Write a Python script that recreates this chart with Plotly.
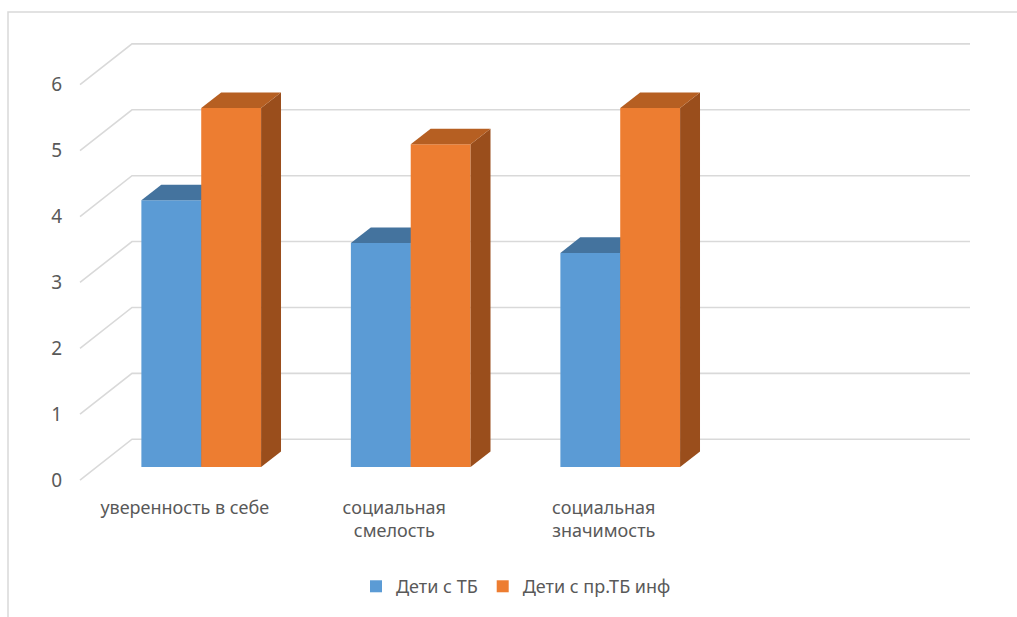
import plotly.graph_objects as go

# ---- data -------------------------------------------------------------
categories = ["уверенность в себе", "социальная<br>смелость", "социальная<br>значимость"]
series_names = ["Дети с ТБ", "Дети с пр.ТБ инф"]
values_tb = [4.05, 3.4, 3.25]
values_inf = [5.45, 4.9, 5.45]
y_ticks = [0, 1, 2, 3, 4, 5, 6]

# ---- styling ----------------------------------------------------------
FRONT = ["#5B9BD5", "#ED7D31"]
TOP = ["#44739E", "#B65F22"]
SIDE = ["#2F5B85", "#9A4E1C"]
GRID = "#D9D9D9"
TEXT = "#595959"
FONT = "Noto Sans"

W, H = 1017, 617
# plot area in pixels
PL, PR, PT, PB = 72, 978, 30, 492
# axis scales (pixels per unit) and origin of the front plane
X0_PX, X_UNIT = 80, 209.5     # px of x=-0.5, px per category
Y0_PX, Y_UNIT = 482, 66.17    # px of value 0 on the front plane, px per unit

x_range = [(PL - X0_PX) / X_UNIT - 0.5, (PR - X0_PX) / X_UNIT - 0.5]
y_range = [(Y0_PX - PB) / Y_UNIT, (Y0_PX - PT) / Y_UNIT]

# oblique depth of the floor / back wall (in axis units)
DX = 52 / X_UNIT
DY = 41 / Y_UNIT
N_SLOTS = 4                    # category slots along the floor
F0, F1 = 0.317, 0.70           # bar depth span as fraction of floor depth
BAR_W = 1 / 3.5                # gap width 150 %

fig = go.Figure()

# floor / wall gridlines on the base subplot
for v in y_ticks:
    fig.add_trace(go.Scatter(
        x=[-0.5, -0.5 + DX, N_SLOTS - 0.5 + DX],
        y=[v, v + DY, v + DY],
        mode="lines", line=dict(color=GRID, width=1.6),
        hoverinfo="skip", showlegend=False))

ox, oy = F0 * DX, F0 * DY                  # front face offset
ddx, ddy = (F1 - F0) * DX, (F1 - F0) * DY  # bar depth

# each series lives on its own overlaid subplot so later series paint on top
series = [values_tb, values_inf]
for si, vals in enumerate(series):
    xa, ya = f"x{si + 2}", f"y{si + 2}"
    for ci, v in enumerate(vals):
        xl = ci + ox + (si - 1) * BAR_W
        xr = xl + BAR_W
        b = oy
        t = oy + v
        # front face
        fig.add_trace(go.Bar(
            x=[ci + ox], y=[v], base=[b], width=[BAR_W],
            offset=[(si - 1) * BAR_W],
            marker=dict(color=FRONT[si], line=dict(width=0)),
            name=series_names[si], legendgroup=series_names[si],
            showlegend=(ci == 0), xaxis=xa, yaxis=ya))
        # side face
        fig.add_trace(go.Scatter(
            x=[xr, xr, xr + ddx, xr + ddx, xr],
            y=[b, t, t + ddy, b + ddy, b],
            fill="toself", fillcolor=SIDE[si], mode="lines",
            line=dict(width=0, color=SIDE[si]),
            hoverinfo="skip", showlegend=False, xaxis=xa, yaxis=ya))
        # top face
        fig.add_trace(go.Scatter(
            x=[xl, xr, xr + ddx, xl + ddx, xl],
            y=[t, t, t + ddy, t + ddy, t],
            fill="toself", fillcolor=TOP[si], mode="lines",
            line=dict(width=0, color=TOP[si]),
            hoverinfo="skip", showlegend=False, xaxis=xa, yaxis=ya))


def paper_x(px):
    return (px - PL) / (PR - PL)


def paper_y(py):
    return (PB - py) / (PB - PT)


hidden_x = dict(range=x_range, visible=False, overlaying="x", fixedrange=True)
hidden_y = dict(range=y_range, visible=False, overlaying="y", fixedrange=True)

fig.update_layout(
    width=W, height=H,
    margin=dict(l=PL, r=W - PR, t=PT, b=H - PB, pad=0),
    paper_bgcolor="white", plot_bgcolor="rgba(0,0,0,0)",
    barmode="overlay",
    font=dict(family=FONT, size=18, color=TEXT),
    xaxis=dict(range=x_range, tickvals=list(range(len(categories))),
               ticktext=categories, showgrid=False, zeroline=False,
               showline=False, ticks="outside", ticklen=1,
               tickcolor="rgba(0,0,0,0)", fixedrange=True,
               tickfont=dict(size=18, color=TEXT)),
    yaxis=dict(range=y_range, tickvals=y_ticks, showgrid=False,
               zeroline=False, showline=False, ticks="",
               ticklabelstandoff=9, fixedrange=True,
               tickfont=dict(size=19, color=TEXT)),
    xaxis2=hidden_x, yaxis2=hidden_y,
    xaxis3=hidden_x, yaxis3=hidden_y,
    legend=dict(orientation="h", x=paper_x(516), xanchor="center",
                y=paper_y(589), yanchor="middle",
                font=dict(size=18, color=TEXT), itemwidth=30,
                traceorder="normal"),
    shapes=[dict(type="rect", xref="paper", yref="paper",
                 x0=paper_x(8), x1=paper_x(1040),
                 y0=paper_y(640), y1=paper_y(12),
                 line=dict(color=GRID, width=1.5), layer="below")],
)

fig.write_html("out.html")
